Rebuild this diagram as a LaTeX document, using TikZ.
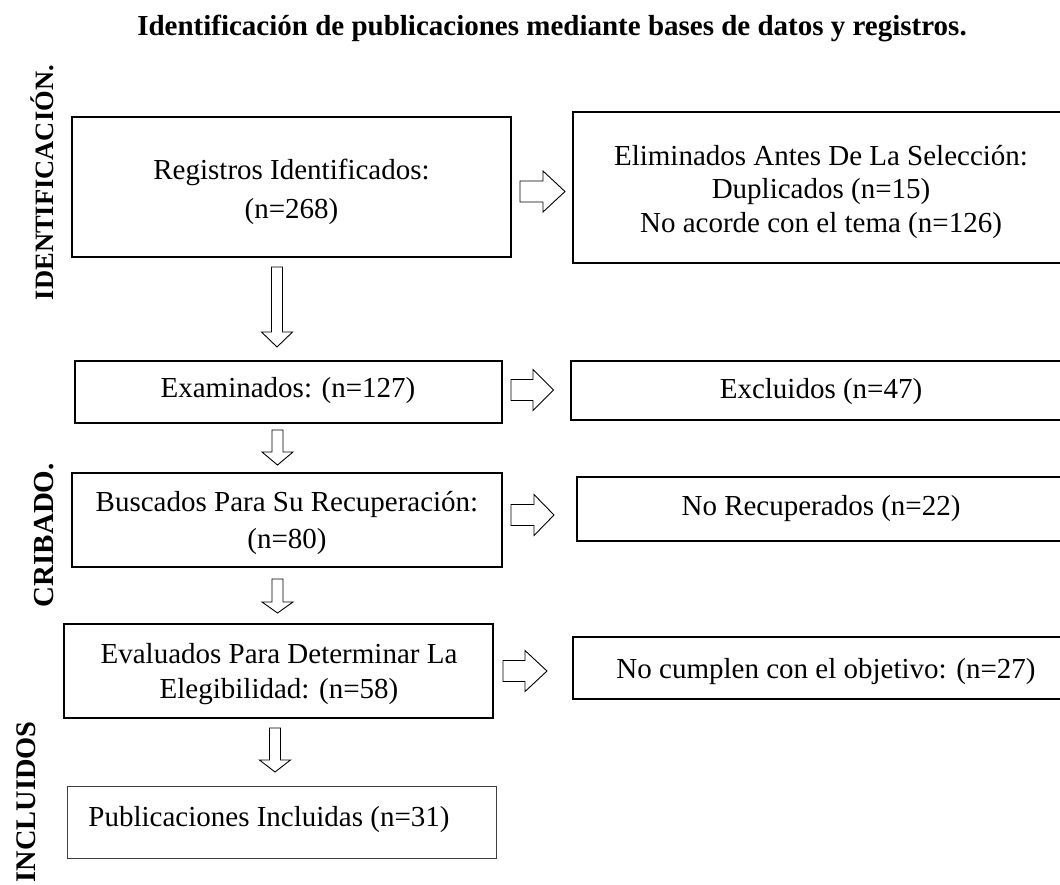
\documentclass[tikz,border=0pt]{standalone}
\usepackage{fontspec}
\setmainfont{Liberation Serif}
\tikzset{
  box/.style={draw, line width=1.2pt, inner sep=0pt},
  blk/.style={draw, fill=white, line width=0.9pt, line join=miter},
  txt/.style={align=center, inner sep=0pt, anchor=base},
  sidelbl/.style={font=\bfseries, rotate=90, anchor=base east, inner sep=0pt},
}
\newcommand\rblk[4]{% x start, x tip, y centre, x head start
  \draw[blk] (#1,#3-10.5) -- (#4,#3-10.5) -- (#4,#3-20.5) -- (#2,#3) -- (#4,#3+20.5) -- (#4,#3+10.5) -- (#1,#3+10.5) -- cycle;}
\newcommand\dblk[4]{% x centre, y top, y tip, y head start
  \draw[blk] (#1-5.5,#2) -- (#1+5.5,#2) -- (#1+5.5,#4) -- (#1+15.5,#4) -- (#1,#3) -- (#1-15.5,#4) -- (#1-5.5,#4) -- cycle;}
\begin{document}
\begin{tikzpicture}[x=1pt,y=-1pt]
\path[use as bounding box, clip] (0,0) rectangle (1060,884);
\fill[white] (0,0) rectangle (1060,884);

% title
\node[txt, font=\bfseries\fontsize{29}{34}\selectfont] (title) at (552,35) {Identificación de publicaciones mediante bases de datos y registros.};

% side labels
\node[sidelbl, font=\bfseries\fontsize{26.5}{30}\selectfont] (lid) at (53,65) {IDENTIFICACIÓN.};
\node[sidelbl, font=\bfseries\fontsize{29}{34}\selectfont] (lcr) at (53.5,463) {CRIBADO.};
\node[sidelbl, font=\bfseries\fontsize{28.4}{34}\selectfont] (lin) at (35,721) {INCLUIDOS};

% left column boxes
\node[box, minimum width=439pt, minimum height=140pt] (b1) at (291.5,187) {};
\node[box, minimum width=427pt, minimum height=62pt] (b2) at (288.5,392) {};
\node[box, minimum width=430pt, minimum height=94pt] (b3) at (287,520) {};
\node[box, minimum width=429pt, minimum height=94pt] (b4) at (278.5,671) {};
\node[box, draw=black!75, line width=0.9pt, minimum width=429pt, minimum height=72pt] (b5) at (281.5,822) {};

% right column boxes
\node[box, minimum width=496pt, minimum height=151pt] (r1) at (821,187.5) {};
\node[box, minimum width=498pt, minimum height=59pt] (r2) at (820,390.5) {};
\node[box, minimum width=492pt, minimum height=64pt] (r3) at (823,509) {};
\node[box, minimum width=506pt, minimum height=62pt] (r4) at (826,668) {};

% texts (multi-line nodes are anchored at the baseline of their last line)
\node[txt, font=\fontsize{29}{39}\selectfont] (t1) at (291.5,218) {Registros Identificados:\\(n=268)};
\node[txt, font=\fontsize{29}{36}\selectfont] (t2) at (288,397) {Examinados: (n=127)};
\node[txt, font=\fontsize{29}{36.5}\selectfont] (t3) at (287,548) {Buscados Para Su Recuperación:\\(n=80)};
\node[txt, font=\fontsize{29}{35}\selectfont] (t4) at (279,698) {Evaluados Para Determinar La\\Elegibilidad: (n=58)};
\node[txt, font=\fontsize{29}{36}\selectfont] (t5) at (269,826) {Publicaciones Incluidas (n=31)};
\node[txt, font=\fontsize{29}{33.5}\selectfont] (s1) at (821,232) {Eliminados Antes De La Selección:\\Duplicados (n=15)\\No acorde con el tema (n=126)};
\node[txt, font=\fontsize{29}{36}\selectfont] (s2) at (821,398) {Excluidos (n=47)};
\node[txt, font=\fontsize{29}{36}\selectfont] (s3) at (821,515) {No Recuperados (n=22)};
\node[txt, font=\fontsize{29}{36}\selectfont] (s4) at (826,678) {No cumplen con el objetivo: (n=27)};

% block arrows to the right
\rblk{520}{565}{191.5}{543}
\rblk{511}{553.5}{390}{533}
\rblk{511}{554}{515}{534}
\rblk{503}{547}{671}{525}

% block arrows downwards
\dblk{277}{267}{347}{332}
\dblk{277.5}{430}{465}{452}
\dblk{277.5}{579}{613}{602}
\dblk{275}{728}{772}{760}
\end{tikzpicture}
\end{document}
